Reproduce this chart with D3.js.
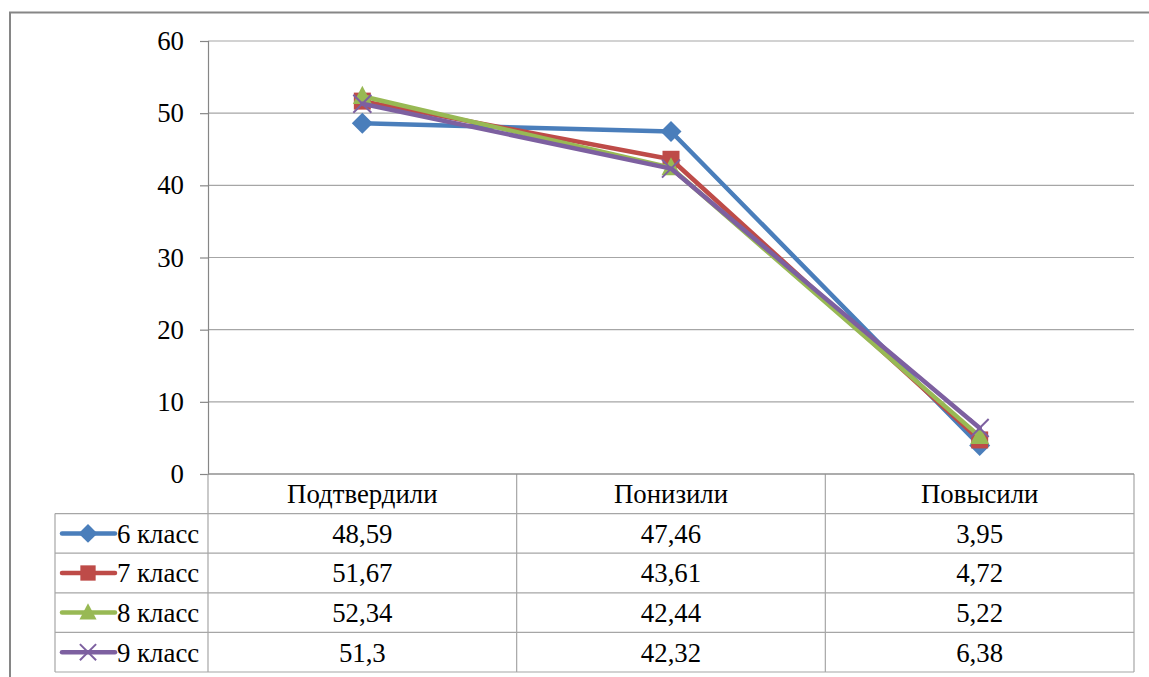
<!DOCTYPE html>
<html><head><meta charset="utf-8">
<script src="https://cdn.jsdelivr.net/npm/d3@7"></script>
<style>
html,body{margin:0;padding:0;background:#fff;}
svg{display:block;}
</style></head>
<body><svg id="c" width="1149" height="677"></svg>
<script>
const categories = ["Подтвердили","Понизили","Повысили"];
const seriesNames = ["6 класс","7 класс","8 класс","9 класс"];
const s6 = [48.59, 47.46, 3.95];
const s7 = [51.67, 43.61, 4.72];
const s8 = [52.34, 42.44, 5.22];
const s9 = [51.3, 42.32, 6.38];
const tableText = [["48,59","47,46","3,95"],["51,67","43,61","4,72"],["52,34","42,44","5,22"],["51,3","42,32","6,38"]];
const yTicks = [0,10,20,30,40,50,60];
const colors = ["#4A7EBB","#BE4B48","#98B954","#7D60A0"];
const markers = ["diamond","square","triangle","x"];

(function(){
const series = [s6,s7,s8,s9].map((v,i)=>({name:seriesNames[i],values:v,color:colors[i],marker:markers[i],text:tableText[i]}));

const svg = d3.select("#c");
const pL=208,pR=1134,pT=41,pB=474;
const tableLeft=55;
const rowH=39.6;
const FS="26.8px";
const FF='"Liberation Serif"';
function styleText(sel){ return sel.style("font-family",FF).style("font-size",FS).style("fill","#000"); }

svg.append("rect").attr("x",10).attr("y",12.5).attr("width",1160).attr("height",700)
  .attr("fill","none").attr("stroke","#868686").attr("stroke-width",2);

const x = d3.scaleBand().domain(categories).range([pL,pR]).paddingInner(0).paddingOuter(0);
const y = d3.scaleLinear().domain([0,60]).range([pB,pT]);

svg.append("g").selectAll("line").data(yTicks.filter(d=>d>0)).join("line")
  .attr("x1",pL).attr("x2",pR).attr("y1",d=>y(d)).attr("y2",d=>y(d))
  .attr("stroke","#a6a6a6").attr("stroke-width",1.2);

const yAxis = d3.axisLeft(y).tickValues(yTicks).tickSize(8).tickPadding(16).tickFormat(d3.format("d"));
const ga = svg.append("g").attr("transform",`translate(${pL},0)`).call(yAxis);
ga.select(".domain").attr("stroke","#868686").attr("stroke-width",1.2);
ga.selectAll(".tick line").attr("stroke","#868686").attr("stroke-width",1.2);
styleText(ga.selectAll(".tick text"));

const tbl = svg.append("g");
const tBottom = pB + rowH*5;
const gray="#a6a6a6";
const hl = d3.range(6).map(i=>pB+rowH*i);
tbl.selectAll("line.h").data(hl).join("line").attr("class","h")
  .attr("x1",(d,i)=>i===0?pL:tableLeft).attr("x2",pR).attr("y1",d=>d).attr("y2",d=>d)
  .attr("stroke",gray).attr("stroke-width",1.2);
const vx = [pL, ...categories.map(c=>x(c)+x.bandwidth())];
tbl.selectAll("line.v").data(vx).join("line").attr("class","v")
  .attr("x1",d=>d).attr("x2",d=>d).attr("y1",pB).attr("y2",tBottom)
  .attr("stroke",gray).attr("stroke-width",1.2);
tbl.append("line").attr("x1",tableLeft).attr("x2",tableLeft).attr("y1",pB+rowH).attr("y2",tBottom)
  .attr("stroke",gray).attr("stroke-width",1.2);
svg.append("line").attr("x1",pL).attr("x2",pR).attr("y1",pB).attr("y2",pB)
  .attr("stroke","#868686").attr("stroke-width",1.2);

styleText(tbl.selectAll("text.cat").data(categories).join("text").attr("class","cat")
  .attr("x",d=>x(d)+x.bandwidth()/2).attr("y",pB+rowH/2).attr("dy","0.35em")
  .attr("text-anchor","middle").text(d=>d));

series.forEach((s,i)=>{
  const ry = pB+rowH*(i+1)+rowH/2;
  styleText(tbl.selectAll(null).data(categories).join("text")
    .attr("x",d=>x(d)+x.bandwidth()/2).attr("y",ry).attr("dy","0.35em")
    .attr("text-anchor","middle").text((d,j)=>s.text[j]));
  styleText(tbl.append("text").attr("x",117).attr("y",ry).attr("dy","0.35em").text(s.name));
});

function drawMarker(g, type, cx, cy, color, scale){
  scale = scale||1;
  if(type==="diamond"){
    const r=10.5*scale;
    g.append("path").attr("d",`M${cx},${cy-r}L${cx+r},${cy}L${cx},${cy+r}L${cx-r},${cy}Z`).attr("fill",color);
  } else if(type==="square"){
    const r=8.5*scale;
    g.append("rect").attr("x",cx-r).attr("y",cy-r).attr("width",2*r).attr("height",2*r).attr("fill",color);
  } else if(type==="triangle"){
    const r=9.5*scale;
    g.append("path").attr("d",`M${cx},${cy-r*1.1}L${cx+r},${cy+r*0.8}L${cx-r},${cy+r*0.8}Z`).attr("fill",color);
  } else {
    const r=9*scale;
    g.append("path").attr("d",`M${cx-r},${cy-r}L${cx+r},${cy+r}M${cx-r},${cy+r}L${cx+r},${cy-r}`)
      .attr("stroke",color).attr("stroke-width",2).attr("fill","none");
  }
}

series.forEach((s,i)=>{
  const ry = pB+rowH*(i+1)+rowH/2;
  const g = svg.append("g");
  g.append("line").attr("x1",62).attr("x2",115).attr("y1",ry).attr("y2",ry)
    .attr("stroke",s.color).attr("stroke-width",4.5).attr("stroke-linecap","round");
  drawMarker(g, s.marker, 88, ry, s.color, 0.9);
});

const line = d3.line().x((d,i)=>x(categories[i])+x.bandwidth()/2).y(d=>y(d));
series.forEach(s=>{
  const g = svg.append("g");
  g.append("path").datum(s.values).attr("d",line).attr("fill","none")
    .attr("stroke",s.color).attr("stroke-width",4.5).attr("stroke-linejoin","round").attr("stroke-linecap","round");
  s.values.forEach((v,i)=>drawMarker(g,s.marker,x(categories[i])+x.bandwidth()/2,y(v),s.color,1));
});
})();
</script></body></html>
